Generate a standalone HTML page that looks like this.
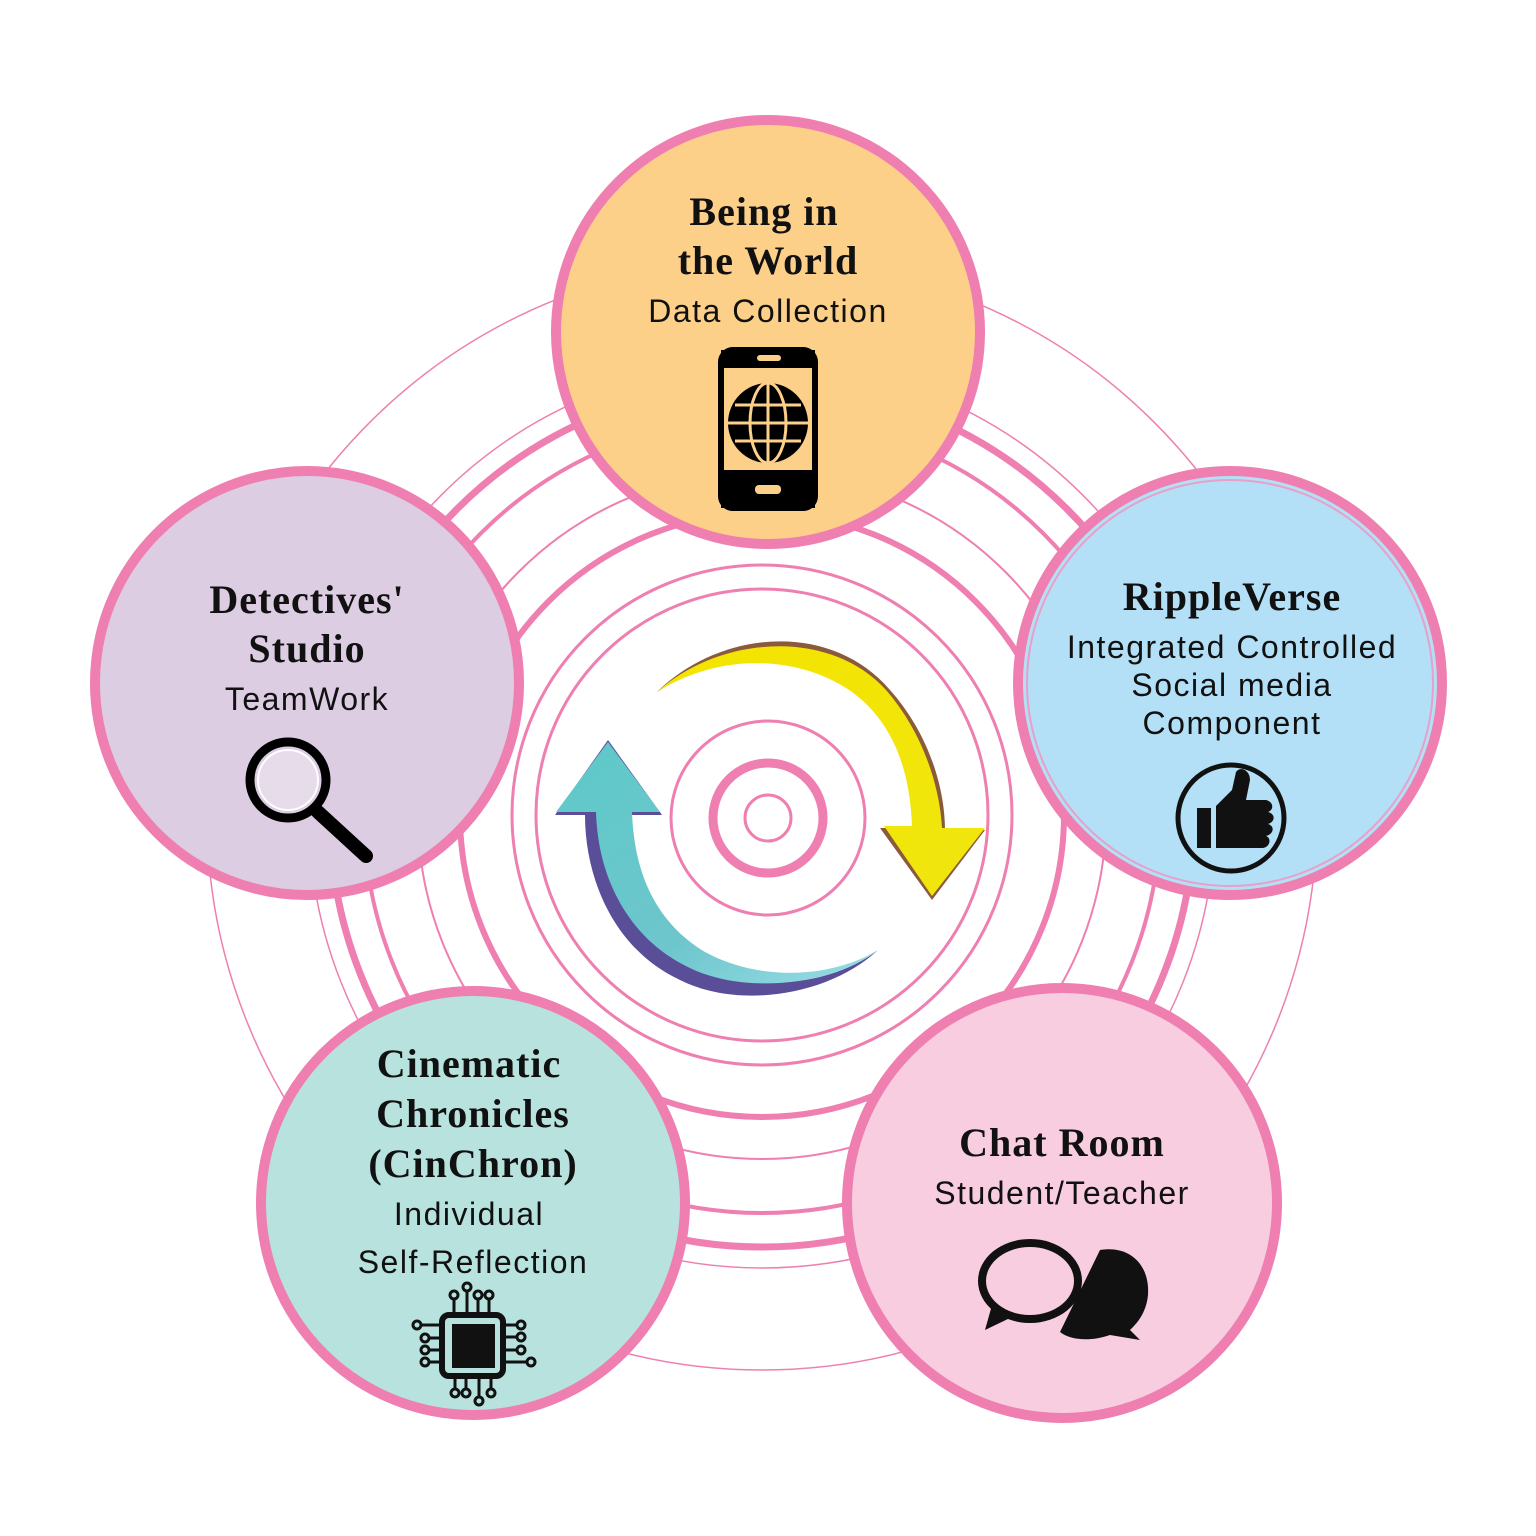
<!DOCTYPE html>
<html><head><meta charset="utf-8"><style>
html,body{margin:0;padding:0;background:#fff;}
svg{display:block}
.t{font-family:"Liberation Serif",serif;font-weight:bold;font-size:40px;fill:#111;text-anchor:middle;letter-spacing:1px}
.s{font-family:"Liberation Sans",sans-serif;font-size:32px;fill:#111;text-anchor:middle;letter-spacing:1.5px}
</style></head><body>
<svg width="1536" height="1536" viewBox="0 0 1536 1536" xmlns="http://www.w3.org/2000/svg">
<defs>
<linearGradient id="yg" x1="0" y1="0" x2="1" y2="1">
<stop offset="0" stop-color="#f4e400"/><stop offset="1" stop-color="#f0e60f"/></linearGradient>
<linearGradient id="tg" x1="0" y1="0" x2="1" y2="1">
<stop offset="0" stop-color="#5ec9c9"/><stop offset="0.6" stop-color="#6dc6cc"/><stop offset="1" stop-color="#9bdde6"/></linearGradient>
</defs>
<g fill="none" stroke="#ee7fb0">
<circle cx="762" cy="815" r="555" stroke-width="1.5"/>
<circle cx="762" cy="815" r="453" stroke-width="1.5"/>
<circle cx="762" cy="815" r="432" stroke-width="7"/>
<circle cx="762" cy="815" r="398" stroke-width="4"/>
<circle cx="762" cy="815" r="344" stroke-width="2"/>
<circle cx="762" cy="815" r="302" stroke-width="6"/>
<circle cx="762" cy="815" r="250" stroke-width="3"/>
<circle cx="762" cy="815" r="226" stroke-width="3"/>
<circle cx="768" cy="818" r="97" stroke-width="3"/>
<circle cx="768" cy="818" r="55" stroke-width="9"/>
<circle cx="768" cy="818" r="23" stroke-width="3"/>
</g>
<path d="M657,692 C720,630 830,620 890,690 C930,735 945,790 945,830 L985,830 L932,900 L880,828 L915,828 C912,770 895,720 855,690 C800,650 720,650 657,692 Z" fill="#8a5a3a"/>
<path d="M657,692 C720,635 830,628 886,690 C925,735 940,790 942,828 L985,828 L932,896 L884,826 L912,826 C910,770 893,722 852,692 C800,655 720,652 657,692 Z" fill="url(#yg)"/>
<path d="M878,950 C830,995 740,1010 680,980 C615,950 585,880 585,815 L555,815 L608,740 L662,815 L630,815 C632,875 650,930 700,960 C760,995 830,985 878,950 Z" fill="#5a4e98"/>
<path d="M878,950 C835,985 745,995 690,968 C630,940 598,880 596,812 L556,812 L608,742 L660,812 L632,812 C634,872 655,922 705,952 C760,982 832,978 878,950 Z" fill="url(#tg)"/>
<g stroke="#ee7fb0" stroke-width="10">
<circle cx="768" cy="332" r="212" fill="#fdd08a"/>
<circle cx="307" cy="683" r="212" fill="#dccde3"/>
<circle cx="1230" cy="683" r="212" fill="#b3e0f6"/>
<circle cx="473" cy="1203" r="212" fill="#b7e2dd"/>
<circle cx="1062" cy="1203" r="215" fill="#f8cde0"/>
</g>
<circle cx="1230" cy="683" r="203" fill="none" stroke="#e9a0c8" stroke-width="2"/>
<text class="t" x="764" y="225">Being in</text>
<text class="t" x="768" y="274">the World</text>
<text class="s" x="768" y="322">Data Collection</text>
<text class="t" x="307" y="613">Detectives'</text>
<text class="t" x="307" y="662">Studio</text>
<text class="s" x="307" y="710">TeamWork</text>
<text class="t" x="1232" y="610">RippleVerse</text>
<text class="s" x="1232" y="658">Integrated Controlled</text>
<text class="s" x="1232" y="696">Social media</text>
<text class="s" x="1232" y="734">Component</text>
<text class="t" x="469" y="1077">Cinematic</text>
<text class="t" x="473" y="1127">Chronicles</text>
<text class="t" x="473" y="1177">(CinChron)</text>
<text class="s" x="469" y="1225">Individual</text>
<text class="s" x="473" y="1273">Self-Reflection</text>
<text class="t" x="1062" y="1156">Chat Room</text>
<text class="s" x="1062" y="1204">Student/Teacher</text>
<rect x="721" y="350" width="94" height="158" rx="12" fill="none" stroke="#000" stroke-width="6"/>
<rect x="721" y="470" width="94" height="38" fill="#000"/>
<rect x="755" y="485" width="26" height="9" rx="4" fill="#fdd08a"/>
<rect x="721" y="350" width="94" height="18" fill="#000"/>
<rect x="757" y="355" width="24" height="6" rx="3" fill="#fdd08a"/>
<circle cx="768" cy="423" r="40" fill="#000"/>
<g stroke="#fdd08a" stroke-width="3" fill="none">
<line x1="728" y1="423" x2="808" y2="423"/><line x1="768" y1="383" x2="768" y2="463"/>
<ellipse cx="768" cy="423" rx="18" ry="40"/><line x1="735" y1="405" x2="801" y2="405"/><line x1="735" y1="441" x2="801" y2="441"/>
</g>
<circle cx="288" cy="780" r="38" fill="none" stroke="#000" stroke-width="9"/>
<circle cx="288" cy="780" r="30" fill="#e6dcea" stroke="#fff" stroke-width="2"/>
<line x1="318" y1="812" x2="366" y2="856" stroke="#000" stroke-width="14" stroke-linecap="round"/>
<circle cx="1231" cy="818" r="53" fill="none" stroke="#111" stroke-width="5"/>
<rect x="1197" y="808" width="14" height="40" fill="#111"/>
<path d="M1216,806 L1232,790 L1236,772 C1240,766 1250,770 1250,780 L1246,800 L1266,800 C1274,802 1274,810 1268,812 C1276,814 1275,822 1268,824 C1275,826 1274,834 1266,836 C1272,838 1270,848 1262,848 L1216,848 Z" fill="#111"/>
<g stroke="#111" stroke-width="3" fill="none">
<line x1="467" y1="1313" x2="467" y2="1290"/><line x1="478" y1="1313" x2="478" y2="1298"/><line x1="489" y1="1313" x2="489" y2="1298"/><line x1="454" y1="1313" x2="454" y2="1298"/>
<line x1="455" y1="1378" x2="455" y2="1390"/><line x1="466" y1="1378" x2="466" y2="1390"/><line x1="479" y1="1378" x2="479" y2="1398"/><line x1="491" y1="1378" x2="491" y2="1390"/>
<line x1="440" y1="1325" x2="420" y2="1325"/><line x1="440" y1="1338" x2="428" y2="1338"/><line x1="440" y1="1350" x2="428" y2="1350"/><line x1="440" y1="1362" x2="428" y2="1362"/>
<line x1="505" y1="1325" x2="518" y2="1325"/><line x1="505" y1="1337" x2="518" y2="1337"/><line x1="505" y1="1350" x2="518" y2="1350"/><line x1="505" y1="1362" x2="528" y2="1362"/>
<circle cx="467" cy="1287" r="4"/><circle cx="478" cy="1295" r="4"/><circle cx="489" cy="1295" r="4"/><circle cx="454" cy="1295" r="4"/>
<circle cx="455" cy="1393" r="4"/><circle cx="466" cy="1393" r="4"/><circle cx="479" cy="1401" r="4"/><circle cx="491" cy="1393" r="4"/>
<circle cx="417" cy="1325" r="4"/><circle cx="425" cy="1338" r="4"/><circle cx="425" cy="1350" r="4"/><circle cx="425" cy="1362" r="4"/>
<circle cx="521" cy="1325" r="4"/><circle cx="521" cy="1337" r="4"/><circle cx="521" cy="1350" r="4"/><circle cx="531" cy="1362" r="4"/>
</g>
<rect x="442" y="1315" width="61" height="61" rx="7" fill="none" stroke="#111" stroke-width="6"/>
<rect x="452" y="1324" width="43" height="44" fill="#111"/>
<path d="M1100,1250 C1130,1245 1150,1265 1148,1295 C1146,1315 1135,1325 1130,1330 L1140,1340 L1110,1335 C1090,1342 1070,1340 1060,1332 Z" fill="#111"/>
<ellipse cx="1030" cy="1281" rx="52" ry="42" fill="#111"/>
<ellipse cx="1030" cy="1281" rx="44" ry="34" fill="#f8cde0"/>
<path d="M992,1305 L985,1330 L1010,1318 Z" fill="#111"/>
</svg>
</body></html>
